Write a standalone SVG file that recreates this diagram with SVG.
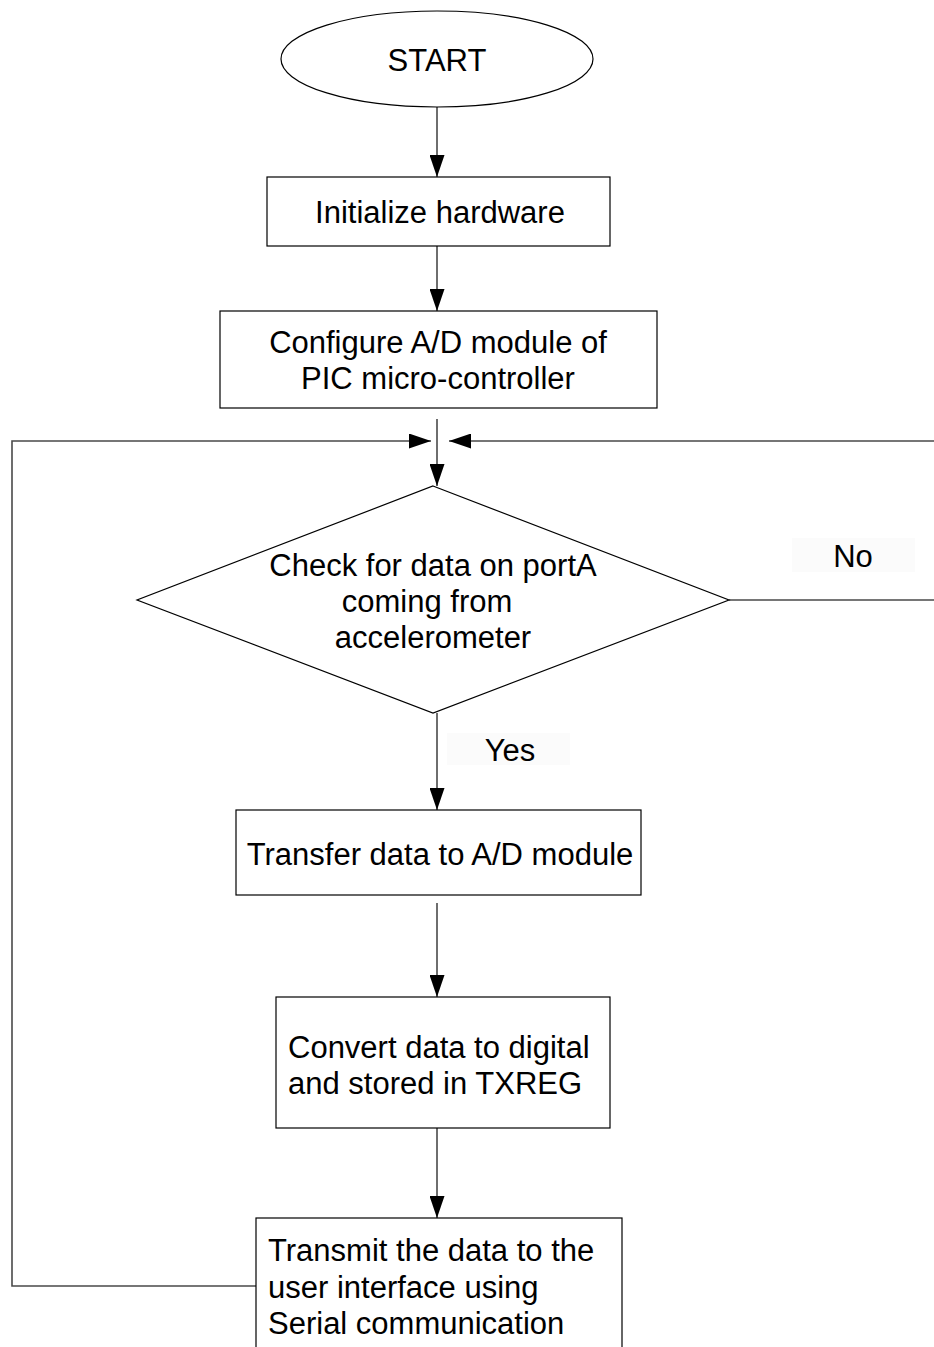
<svg xmlns="http://www.w3.org/2000/svg" width="934" height="1347" viewBox="0 0 934 1347">
  <style>
    .shape { fill: #ffffff; stroke: #000000; stroke-width: 1.2; }
    .wire { fill: none; stroke: #4a4a4a; stroke-width: 1.6; }
    .label { font-family: "Liberation Sans", Arial, sans-serif; font-size: 31px; fill: #000000; }
    .mid { text-anchor: middle; }
    .tag { fill: #fbfbfb; }
  </style>
  <defs>
    <marker id="arrow" viewBox="0 0 22 15" refX="22" refY="7.5" markerWidth="22" markerHeight="15" markerUnits="userSpaceOnUse" orient="auto">
      <path d="M0,0 L22,7.5 L0,15 Z" fill="#000000"/>
    </marker>
  </defs>
  <rect width="934" height="1347" fill="#ffffff"/>

  <g id="connectors">
    <line class="wire" x1="437" y1="107" x2="437" y2="177" marker-end="url(#arrow)"/>
    <line class="wire" x1="437" y1="246" x2="437" y2="311" marker-end="url(#arrow)"/>
    <line class="wire" x1="437" y1="419" x2="437" y2="486" marker-end="url(#arrow)"/>
    <!-- No branch: back up along the right edge -->
    <polyline class="wire" points="729,600 936,600 936,441 449,441" marker-end="url(#arrow)"/>
    <!-- Yes branch -->
    <line class="wire" x1="437" y1="713" x2="437" y2="810" marker-end="url(#arrow)"/>
    <line class="wire" x1="437" y1="903" x2="437" y2="997" marker-end="url(#arrow)"/>
    <line class="wire" x1="437" y1="1128" x2="437" y2="1218" marker-end="url(#arrow)"/>
    <!-- loop back from transmit -->
    <polyline class="wire" points="256,1286 12,1286 12,441 431,441" marker-end="url(#arrow)"/>
    <g id="label-no">
      <rect class="tag" x="792" y="538" width="123" height="34"/>
      <text class="label mid" x="853" y="567">No</text>
    </g>
    <g id="label-yes">
      <rect class="tag" x="447" y="733" width="123" height="32"/>
      <text class="label mid" x="510" y="761">Yes</text>
    </g>
  </g>

  <g id="start">
    <ellipse class="shape" cx="437" cy="59" rx="156" ry="48"/>
    <text class="label mid" x="437" y="71">START</text>
  </g>

  <g id="init">
    <rect class="shape" x="267" y="177" width="343" height="69"/>
    <text class="label mid" x="440" y="223">Initialize hardware</text>
  </g>

  <g id="configure">
    <rect class="shape" x="220" y="311" width="437" height="97"/>
    <text class="label mid" x="438" y="353">Configure A/D module of</text>
    <text class="label mid" x="438" y="389">PIC micro-controller</text>
  </g>

  <g id="check">
    <polygon class="shape" points="433,486 729,600 433,713 137,600"/>
    <text class="label mid" x="433" y="576">Check for data on portA</text>
    <text class="label mid" x="427" y="612">coming from</text>
    <text class="label mid" x="433" y="648">accelerometer</text>
  </g>

  <g id="transfer">
    <rect class="shape" x="236" y="810" width="405" height="85"/>
    <text class="label mid" x="440" y="865">Transfer data to A/D module</text>
  </g>

  <g id="convert">
    <rect class="shape" x="276" y="997" width="334" height="131"/>
    <text class="label" x="288" y="1058">Convert data to digital</text>
    <text class="label" x="288" y="1094">and stored in TXREG</text>
  </g>

  <g id="transmit">
    <rect class="shape" x="256" y="1218" width="366" height="140"/>
    <text class="label" x="268" y="1261">Transmit the data to the</text>
    <text class="label" x="268" y="1298">user interface using</text>
    <text class="label" x="268" y="1334">Serial communication</text>
  </g>
</svg>
